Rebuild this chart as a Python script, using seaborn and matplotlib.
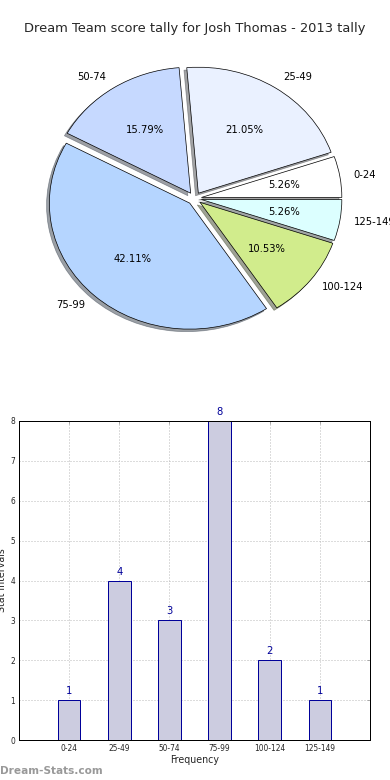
import matplotlib
matplotlib.use("Agg")
import matplotlib.pyplot as plt
import seaborn as sns
import pandas as pd

categories = ["0-24", "25-49", "50-74", "75-99", "100-124", "125-149"]
counts = [1, 4, 3, 8, 2, 1]
pie_colors = ["#FFFFFF", "#EAF1FF", "#C6D9FF", "#B5D5FF", "#D1EC8C", "#DCFFFF"]
title = "Dream Team score tally for Josh Thomas - 2013 tally"

sns.set_style("white")
plt.rcParams["font.family"] = ["DejaVu Sans"]

DPI = 72
W, H = 390, 780
fig = plt.figure(figsize=(W / DPI, H / DPI), dpi=DPI)

def px_axes(left, top, right, bottom):
    return fig.add_axes([left / W, 1 - bottom / H, (right - left) / W, (bottom - top) / H])

# ---- Pie ----
axp = px_axes(19, 41, 370, 356)
wedges, texts, autotexts = axp.pie(
    counts, labels=categories, colors=pie_colors, explode=[0.05] * len(counts),
    autopct="%1.2f%%", shadow=True, startangle=0, counterclock=True,
    wedgeprops=dict(edgecolor="black", linewidth=0.7),
    textprops=dict(fontsize=10, color="black"), labeldistance=1.1, pctdistance=0.6,
)
axp.set_aspect("auto")
axp.set_xlim(-1.25, 1.25)
axp.set_ylim(-1.25, 1.25)
axp.axis("off")
axp.set_title(title, fontsize=13, pad=9)

# ---- Bar ----
axb = px_axes(19, 421, 370, 740)
df = pd.DataFrame({"interval": categories, "count": counts})
sns.barplot(data=df, x="interval", y="count", ax=axb, color="#CCCCE0",
            edgecolor="#000099", linewidth=1.0, width=0.45, saturation=1)
axb.set_xlim(-1, 6)
axb.set_ylim(0, 8)
axb.set_yticks(range(0, 9))
axb.grid(True, linestyle=(0, (1, 2)), color="#BBBBBB", linewidth=1.0)
for gl in axb.get_xgridlines() + axb.get_ygridlines():
    gl.set_zorder(3)
for sp in axb.spines.values():
    sp.set_visible(True)
    sp.set_color("black")
    sp.set_linewidth(1.0)
    sp.set_zorder(4)
axb.tick_params(axis="both", direction="in", length=3, labelsize=7.5, top=True, right=True,
                color="#999999", pad=4)
for i, c in enumerate(counts):
    axb.text(i, c + 0.1, str(c), ha="center", va="bottom", fontsize=10, color="#000099")
axb.set_xlabel("Frequency", fontsize=9.5, labelpad=2)
axb.set_ylabel("Stat Intervals", fontsize=9.5, labelpad=3)

fig.text(0.0, 1 - 771 / H, "Dream-Stats.com", fontsize=10.5, fontweight="bold",
         color="#999999", ha="left", va="center")

fig.savefig("out.png", dpi=DPI)
